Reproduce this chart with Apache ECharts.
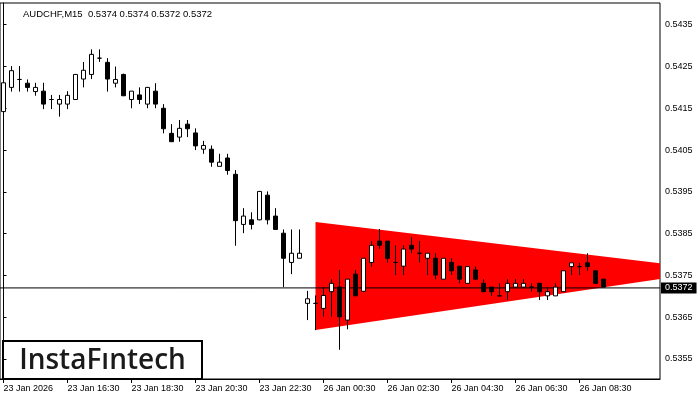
<!DOCTYPE html>
<html><head><meta charset="utf-8">
<script src="https://cdn.jsdelivr.net/npm/echarts@6/dist/echarts.min.js"></script>
<style>html,body{margin:0;padding:0;background:#fff}#c{width:700px;height:400px}</style>
</head><body><div id="c"></div>
<script>
// AUDCHF M15 candles, index 0 = 23 Jan 14:30
const opens = [0.54142,0.54200,0.54219,0.54210,0.54190,0.54191,0.54171,0.54160,0.54160,0.54171,
0.54220,0.54231,0.54270,0.54260,0.54210,0.54231,0.54171,0.54182,0.54160,0.54191,
0.54150,0.54090,0.54081,0.54112,0.54091,0.54052,0.54052,0.54011,0.54031,0.53992,
0.53872,0.53883,0.53883,0.53942,0.53892,0.53851,0.53781,0.53791,0.53683,0.53683,
0.53671,0.53711,0.53722,0.53643,0.53753,0.53712,0.53781,0.53832,0.53832,0.53781,
0.53772,0.53822,0.53803,0.53791,0.53791,0.53741,0.53781,0.53772,0.53731,0.53763,
0.53731,0.53722,0.53701,0.53711,0.53722,0.53722,0.53722,0.53731,0.53701,0.53701,
0.53711,0.53771,0.53771,0.53780,0.53761,0.53741];
const closes = [0.54211,0.54240,0.54219,0.54200,0.54200,0.54160,0.54171,0.54171,0.54181,0.54231,
0.54241,0.54279,0.54270,0.54220,0.54219,0.54180,0.54191,0.54171,0.54200,0.54160,
0.54101,0.54070,0.54102,0.54101,0.54060,0.54061,0.54021,0.54021,0.54001,0.53881,
0.53892,0.53872,0.53951,0.53883,0.53860,0.53791,0.53803,0.53803,0.53694,0.53683,
0.53702,0.53731,0.53651,0.53741,0.53701,0.53791,0.53822,0.53822,0.53791,0.53781,
0.53813,0.53813,0.53803,0.53803,0.53751,0.53791,0.53761,0.53741,0.53771,0.53741,
0.53711,0.53711,0.53701,0.53731,0.53731,0.53731,0.53722,0.53711,0.53711,0.53722,
0.53761,0.53780,0.53771,0.53771,0.53731,0.53722];
const lows = [0.54115,0.54190,0.54190,0.54190,0.54180,0.54148,0.54148,0.54130,0.54148,0.54170,
0.54200,0.54220,0.54261,0.54190,0.54200,0.54179,0.54150,0.54160,0.54150,0.54150,
0.54090,0.54070,0.54070,0.54081,0.54050,0.54041,0.54010,0.54011,0.53991,0.53821,
0.53851,0.53860,0.53882,0.53872,0.53860,0.53722,0.53753,0.53791,0.53643,0.53619,
0.53651,0.53651,0.53572,0.53621,0.53701,0.53712,0.53771,0.53813,0.53781,0.53751,
0.53751,0.53803,0.53781,0.53751,0.53741,0.53741,0.53751,0.53731,0.53731,0.53741,
0.53711,0.53701,0.53701,0.53691,0.53722,0.53722,0.53711,0.53691,0.53691,0.53701,
0.53711,0.53751,0.53751,0.53761,0.53731,0.53722];
const highs = [0.54220,0.54251,0.54251,0.54219,0.54211,0.54211,0.54182,0.54182,0.54191,0.54232,
0.54261,0.54291,0.54291,0.54270,0.54250,0.54233,0.54191,0.54200,0.54201,0.54210,
0.54160,0.54112,0.54122,0.54122,0.54102,0.54072,0.54061,0.54041,0.54041,0.54002,
0.53911,0.53901,0.53952,0.53951,0.53911,0.53860,0.53860,0.53860,0.53713,0.53702,
0.53722,0.53741,0.53763,0.53741,0.53763,0.53791,0.53832,0.53861,0.53832,0.53822,
0.53822,0.53841,0.53832,0.53803,0.53803,0.53791,0.53791,0.53772,0.53771,0.53771,
0.53741,0.53722,0.53731,0.53741,0.53741,0.53741,0.53731,0.53731,0.53722,0.53731,
0.53761,0.53780,0.53780,0.53803,0.53761,0.53741];

const xTickIdx = [0,8,16,24,32,40,48,56,64,72];
const xTickLabels = ['23 Jan 2026','23 Jan 16:30','23 Jan 18:30','23 Jan 20:30','23 Jan 22:30',
  '26 Jan 00:30','26 Jan 02:30','26 Jan 04:30','26 Jan 06:30','26 Jan 08:30'];
const yTicks = [0.5355,0.5365,0.5375,0.5385,0.5395,0.5405,0.5415,0.5425,0.5435];

// symmetrical triangle pattern (bar index, price)
const triangleX = [39, 89.4, 39];
const triangleY = [0.53878, 0.53762, 0.53619];
const lastPrice = 0.5372;
const titleText = 'AUDCHF,M15  0.5374 0.5374 0.5372 0.5372';

const FONT = '"Liberation Sans", Arial, sans-serif';
const chart = echarts.init(document.getElementById('c'), null, {renderer: 'canvas'});
chart.setOption({
  animation: false,
  backgroundColor: '#fff',
  grid: {left: 0, right: 40, top: 3, bottom: 21, show: true, borderColor: '#000', borderWidth: 1, backgroundColor: 'transparent'},
  title: {text: titleText, left: 18, top: 4, textStyle: {fontFamily: FONT, fontSize: 9.5, fontWeight: 'normal', color: '#000'}},
  xAxis: {
    type: 'value', min: -0.4375, max: 82.0625,
    splitLine: {show: false},
    axisLine: {show: true, lineStyle: {color: '#000', width: 1}},
    axisTick: {show: true, customValues: xTickIdx, length: 4, lineStyle: {color: '#000'}},
    axisLabel: {customValues: xTickIdx, align: 'left', margin: 5, color: '#000', fontFamily: FONT, fontSize: 9,
      formatter: v => xTickLabels[xTickIdx.indexOf(Math.round(v))] || ''}
  },
  yAxis: {
    type: 'value', position: 'right', min: 0.53502, max: 0.54402, scale: true,
    splitLine: {show: false},
    axisLine: {show: true, lineStyle: {color: '#000', width: 1}},
    axisTick: {show: true, customValues: yTicks, length: 3, lineStyle: {color: '#000'}},
    axisLabel: {customValues: yTicks, margin: 5, color: '#000', fontFamily: FONT, fontSize: 9,
      formatter: v => v.toFixed(4)}
  },
  series: [
    {
      type: 'custom', z: 1, clip: true, silent: true,
      dimensions: ['bar', 'price'],
      encode: {x: 0, y: 1},
      data: triangleX.map((x, i) => [x, triangleY[i]]),
      renderItem: (params, api) => {
        if (params.dataIndex !== 0) return null;
        const pts = triangleX.map((x, i) => api.coord([x, triangleY[i]]));
        return {type: 'polygon', shape: {points: pts}, style: {fill: '#ff0000'}};
      }
    },
    {
      type: 'line', z: 2, silent: true, showSymbol: false, symbol: 'none',
      data: [[-0.4375, lastPrice], [82.0625, lastPrice]],
      lineStyle: {color: '#000', width: 1},
      endLabel: {show: true, distance: 1, formatter: lastPrice.toFixed(4),
        color: '#fff', backgroundColor: '#000', padding: [1, 4, 0, 4], fontFamily: FONT, fontSize: 9, lineHeight: 10}
    },
    {
      type: 'candlestick', z: 3, barWidth: 4,
      encode: {x: 0, y: [1, 2, 3, 4]},
      data: opens.map((o, i) => [i, o, closes[i], lows[i], highs[i]]),
      itemStyle: {color: '#fff', color0: '#000', borderColor: '#000', borderColor0: '#000', borderWidth: 1},
      emphasis: {disabled: true}
    }
  ],
  graphic: [{
    type: 'group', left: 2, top: 340, z: 100,
    children: [
      {type: 'rect', shape: {x: 0, y: 0, width: 199, height: 38}, style: {fill: '#fff', stroke: '#000', lineWidth: 2}},
      {type: 'text', x: 99.5, y: 20, style: {text: 'InstaFıntech', font: '600 28px "Open Sans", sans-serif', fill: '#1a1a1a', textAlign: 'center', textVerticalAlign: 'middle'}}
    ]
  }]
});
</script></body></html>
